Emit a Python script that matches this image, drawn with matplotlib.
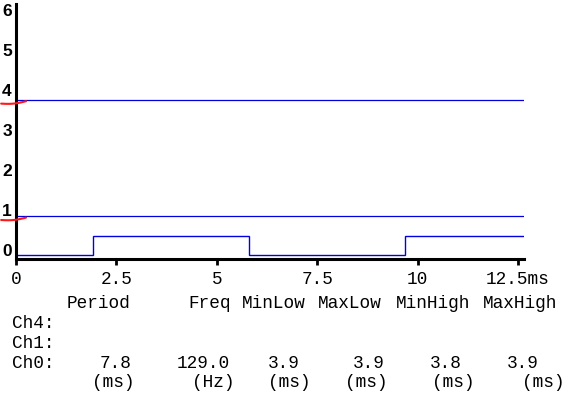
import numpy as np
import matplotlib
matplotlib.use('Agg')
import matplotlib.pyplot as plt

# trace data (time in ms, level in divisions)
edge_t = [0.0, 1.92, 5.80, 9.69, 12.65]
edge_lvl = [-0.125, 0.36, -0.125, 0.36]
ref_levels = [3.76, 0.85]

xticks = [0, 2.5, 5, 7.5, 10, 12.5]
xlabels = ['0', '2.5', '5', '7.5', '10', '12.5ms']
yticks = [0, 1, 2, 3, 4, 5, 6]

headers = ['Period', 'Freq', 'MinLow', 'MaxLow', 'MinHigh', 'MaxHigh']
channels = ['Ch4:', 'Ch1:', 'Ch0:']
ch0_vals = ['7.8', '129.0', '3.9', '3.9', '3.8', '3.9']
units = ['(ms)', '(Hz)', '(ms)', '(ms)', '(ms)', '(ms)']

W, H = 587, 409
fig = plt.figure(figsize=(W / 100, H / 100), dpi=100)
blue = '#0000e0'
mono = 'Liberation Mono'

def px(x, y):
    return x / W, 1 - y / H

# axes area in pixels
x0, x1 = 16, 524
y0, y1 = 4, 258.7
ax = fig.add_axes([x0 / W, 1 - y1 / H, (x1 - x0) / W, (y1 - y0) / H])
ax.set_xlim(0, (x1 - x0) / 40.16)
ax.set_ylim(-(y1 - 250) / 40.0, (250 - y0) / 40.0)

# step trace
xs, ys = [], []
for i, lv in enumerate(edge_lvl):
    xs += [edge_t[i], edge_t[i + 1]]
    ys += [lv, lv]
ax.plot(xs, ys, color=blue, lw=1.0, solid_joinstyle='miter')
for lv in ref_levels:
    ax.axhline(lv, color=blue, lw=0.9)
    # red hand-drawn level marker
    mx = np.linspace(-0.37, 0.25, 30)
    t = (mx + 0.37) / 0.62
    my = lv - 0.1 + 0.06 * t - 0.03 * np.sin(t * np.pi)
    ax.plot(mx, my, color='#ff1818', lw=1.5, clip_on=False,
            solid_capstyle='round', zorder=5)

for s in ['top', 'right']:
    ax.spines[s].set_visible(False)
for s in ['left', 'bottom']:
    ax.spines[s].set_linewidth(2.2)
    ax.spines[s].set_color('black')

ax.set_xticks(xticks)
ax.set_xticklabels(xlabels, fontfamily=mono, fontsize=12.8)
ax.tick_params(axis='x', direction='out', length=4, width=2, pad=5)
ax.set_yticks(yticks)
ax.set_yticklabels([str(v) for v in yticks], fontfamily='Liberation Sans',
                   fontweight='bold', fontsize=12.5)
ax.tick_params(axis='y', length=0, pad=3)

# measurement table
fs = 12.8
hx = [67, 188, 242, 318, 396, 483]
for x, t in zip(hx, headers):
    fig.text(*px(x, 308), t, fontfamily=mono, fontsize=fs, va='baseline')
for y, c in zip([328, 347.7, 367.7], channels):
    fig.text(*px(12, y), c, fontfamily=mono, fontsize=fs, va='baseline')
vx = [100, 177, 268, 353, 430, 507]
for x, v in zip(vx, ch0_vals):
    fig.text(*px(x, 367.7), v, fontfamily=mono, fontsize=fs, va='baseline')
ux = [92, 192, 268, 345, 432, 522]
for x, u in zip(ux, units):
    fig.text(*px(x, 387), u, fontfamily=mono, fontsize=fs, va='baseline')

fig.savefig('out.png', dpi=100)
